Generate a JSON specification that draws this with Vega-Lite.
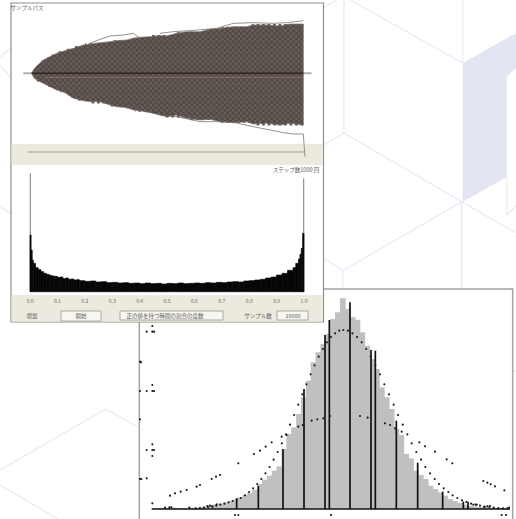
{
"$schema":"https://vega.github.io/schema/vega-lite/v6.json",
"width":516,"height":519,"padding":0,"autosize":{"type":"none"},"background":"#ffffff",
"config":{"view":{"stroke":null},"axis":{"disable":true},"text":{"font":"Noto Sans CJK JP"}},
"resolve":{"scale":{"x":"independent","y":"independent"}},
"datasets":{
"poly":[{"part":"a","x":462.7,"y":63,"y2":201.7},{"part":"a","x":506.7,"y":38.2,"y2":177},{"part":"b","x":506.7,"y":38.2,"y2":77},{"part":"b","x":516,"y":33,"y2":68}],
"lines":[{"x":344,"y":0,"x2":344,"y2":133},{"x":350,"y":0,"x2":462.7,"y2":63},{"x":462.7,"y":0,"x2":462.7,"y2":63},{"x":344,"y":133,"x2":461.7,"y2":201.7},{"x":324,"y":145,"x2":344,"y2":133},{"x":461.7,"y":201.7,"x2":516,"y2":233},{"x":461.7,"y":201.7,"x2":342.7,"y2":270.7},{"x":324,"y":258,"x2":342.7,"y2":270.7},{"x":342.7,"y":270.7,"x2":342.7,"y2":288},{"x":461.7,"y":201.7,"x2":461.7,"y2":288},{"x":506.7,"y":177,"x2":506.7,"y2":215},{"x":506.7,"y":215,"x2":516,"y2":206},{"x":324,"y":7,"x2":337,"y2":0},{"x":0,"y":57,"x2":11,"y2":48},{"x":0,"y":65,"x2":11,"y2":78},{"x":0,"y":207,"x2":11,"y2":214},{"x":0,"y":470,"x2":106,"y2":409},{"x":106,"y":409,"x2":138,"y2":427},{"x":0,"y":485,"x2":58,"y2":519},{"x":512,"y":369,"x2":516,"y2":372}],
"frame":[{"x":28,"x2":1148,"h":660,"h2":-40}],
"bars":[{"c":70,"h":3},{"c":85,"h":3},{"c":100,"h":3},{"c":115,"h":4},{"c":130,"h":3},{"c":145,"h":3},{"c":160,"h":3},{"c":175,"h":4},{"c":190,"h":4},{"c":205,"h":6},{"c":220,"h":8},{"c":235,"h":10},{"c":250,"h":14},{"c":265,"h":16},{"c":280,"h":20},{"c":295,"h":24},{"c":310,"h":28},{"c":325,"h":35},{"c":340,"h":42},{"c":355,"h":48},{"c":370,"h":58},{"c":385,"h":75},{"c":400,"h":88},{"c":415,"h":100},{"c":430,"h":115},{"c":445,"h":128},{"c":460,"h":180},{"c":475,"h":225},{"c":490,"h":245},{"c":505,"h":285},{"c":520,"h":335},{"c":535,"h":385},{"c":550,"h":440},{"c":565,"h":470},{"c":580,"h":495},{"c":595,"h":525},{"c":610,"h":570},{"c":625,"h":590},{"c":640,"h":632},{"c":655,"h":600},{"c":670,"h":575},{"c":685,"h":568},{"c":700,"h":530},{"c":715,"h":490},{"c":730,"h":450},{"c":745,"h":420},{"c":760,"h":365},{"c":775,"h":335},{"c":790,"h":300},{"c":805,"h":240},{"c":820,"h":222},{"c":835,"h":165},{"c":850,"h":152},{"c":865,"h":115},{"c":880,"h":102},{"c":895,"h":90},{"c":910,"h":70},{"c":925,"h":60},{"c":940,"h":50},{"c":955,"h":40},{"c":970,"h":30},{"c":985,"h":24},{"c":1000,"h":18},{"c":1015,"h":13},{"c":1030,"h":10},{"c":1045,"h":8},{"c":1060,"h":6},{"c":1075,"h":5},{"c":1090,"h":4},{"c":1105,"h":3},{"c":1120,"h":3},{"c":1135,"h":2}],
"spikes":[{"c":320,"h":32},{"c":385,"h":69},{"c":459,"h":179},{"c":522,"h":360},{"c":585,"h":522},{"c":598,"h":567},{"c":660,"h":620},{"c":723,"h":477},{"c":736,"h":475},{"c":799,"h":265},{"c":863,"h":139},{"c":938,"h":52},{"c":1000,"h":22},{"c":1014,"h":22}],
"base":[{"a":65,"b":1140,"h":0}],
"dots":[{"c":640,"h":537},{"c":627.7,"h":535},{"c":615.4,"h":527},{"c":603.1,"h":516},{"c":590.8,"h":500},{"c":578.5,"h":480},{"c":566.2,"h":457},{"c":553.9,"h":431},{"c":541.6,"h":404},{"c":529.3,"h":374},{"c":517,"h":344},{"c":504.7,"h":313},{"c":492.4,"h":282},{"c":480.1,"h":253},{"c":467.8,"h":224},{"c":455.5,"h":197},{"c":443.2,"h":171},{"c":430.9,"h":148},{"c":418.6,"h":126},{"c":406.3,"h":107},{"c":394,"h":90},{"c":381.7,"h":75},{"c":369.4,"h":62},{"c":357.1,"h":51},{"c":344.8,"h":41},{"c":332.5,"h":33},{"c":320.2,"h":28},{"c":307.9,"h":24},{"c":295.6,"h":20},{"c":283.3,"h":16},{"c":271,"h":13},{"c":258.7,"h":10},{"c":246.4,"h":8},{"c":234.1,"h":6},{"c":221.8,"h":4},{"c":209.5,"h":3},{"c":197.2,"h":2},
{"c":653.7,"h":535},{"c":667.4,"h":527},{"c":681,"h":516},{"c":695,"h":500},{"c":708.5,"h":480},{"c":722,"h":457},{"c":736,"h":431},{"c":750,"h":404},{"c":763,"h":374},{"c":777,"h":344},{"c":791,"h":313},{"c":804,"h":282},{"c":818,"h":253},{"c":832,"h":224},{"c":845,"h":197},{"c":859,"h":171},{"c":873,"h":148},{"c":886,"h":126},{"c":900,"h":107},{"c":914,"h":90},{"c":927,"h":75},{"c":941,"h":62},{"c":955,"h":51},{"c":968,"h":41},{"c":982,"h":33},{"c":996,"h":26},{"c":1009,"h":21},{"c":1023,"h":16},{"c":1037,"h":13},{"c":1050,"h":10},{"c":1064,"h":7},{"c":1078,"h":6},{"c":1091,"h":4},{"c":1105,"h":3},{"c":1119,"h":2},{"c":1132,"h":2},
{"c":120,"h":40},{"c":135,"h":47},{"c":152,"h":52},{"c":170,"h":57},{"c":200,"h":67},{"c":210,"h":72},{"c":245,"h":90},{"c":258,"h":97},{"c":270,"h":102},{"c":325,"h":137},{"c":372,"h":165},{"c":390,"h":175},{"c":407,"h":187},{"c":425,"h":200},{"c":455,"h":217},{"c":470,"h":222},{"c":505,"h":247},{"c":518,"h":252},{"c":545,"h":265},{"c":562,"h":269},{"c":580,"h":272},{"c":600,"h":279},{"c":690,"h":279},{"c":713,"h":274},{"c":765,"h":257},{"c":780,"h":252},{"c":795,"h":242},{"c":815,"h":232},{"c":868,"h":200},{"c":885,"h":188},{"c":915,"h":172},{"c":950,"h":149},{"c":967,"h":137},{"c":1060,"h":84},{"c":1072,"h":79},{"c":1082,"h":74},{"c":1095,"h":68},{"c":1123,"h":56},
{"c":67,"h":549},{"c":67,"h":532},{"c":50,"h":532},{"c":72,"h":532},{"c":67,"h":372},{"c":30,"h":354},{"c":50,"h":354},{"c":67,"h":354},{"c":72,"h":354},{"c":30,"h":269},{"c":67,"h":194},{"c":50,"h":177},{"c":67,"h":177},{"c":72,"h":177},{"c":67,"h":159},{"c":30,"h":90},{"c":34,"h":90},{"c":50,"h":92},{"c":67,"h":17},{"c":30,"h":442},{"c":33,"h":440},
{"c":315,"h":-18},{"c":325,"h":-18},{"c":603,"h":-18},{"c":1115,"h":-18},{"c":1128,"h":-18},
{"c":105,"h":4},{"c":118,"h":5},{"c":124,"h":5},{"c":178,"h":4},{"c":232,"h":9},{"c":240,"h":10},{"c":248,"h":7},{"c":260,"h":14},{"c":1030,"h":13},{"c":1040,"h":13},{"c":1062,"h":6},{"c":1072,"h":8},{"c":1080,"h":9},{"c":1137,"h":4}],
"windowRect":[{"x":11,"x2":323.5,"y":3,"y2":322}],
"strips":[{"x":11.5,"x2":323,"y":144,"y2":165},{"x":11.5,"x2":323,"y":295,"y2":321.5}],
"boxes":[{"x":61,"x2":101,"y":311,"y2":321},{"x":120,"x2":223,"y":311,"y2":320},{"x":277,"x2":308,"y":311,"y2":320}],
"slider":[{"x":28,"x2":305,"y":152}],
"envelope":[{"s":0,"t":0,"b":0},{"s":5,"t":10,"b":-10},{"s":15,"t":22,"b":-20},{"s":35,"t":40,"b":-30},{"s":55,"t":50,"b":-40},{"s":75,"t":60,"b":-50},{"s":100,"t":68,"b":-58},{"s":125,"t":75,"b":-75},{"s":155,"t":85,"b":-82},{"s":175,"t":88,"b":-85},{"s":205,"t":92,"b":-85},{"s":235,"t":95,"b":-95},{"s":255,"t":98,"b":-100},{"s":285,"t":100,"b":-103},{"s":305,"t":105,"b":-110},{"s":325,"t":108,"b":-112},{"s":355,"t":110,"b":-118},{"s":385,"t":113,"b":-125},{"s":405,"t":112,"b":-130},{"s":435,"t":120,"b":-125},{"s":465,"t":125,"b":-135},{"s":505,"t":125,"b":-140},{"s":535,"t":132,"b":-138},{"s":565,"t":135,"b":-145},{"s":605,"t":140,"b":-148},{"s":645,"t":140,"b":-145},{"s":665,"t":145,"b":-152},{"s":705,"t":145,"b":-150},{"s":745,"t":142,"b":-155},{"s":775,"t":148,"b":-150},{"s":815,"t":148,"b":-155}],
"rowsA":[{"p":144,"s":660,"e":815},{"p":128,"s":520,"e":815},{"p":111,"s":360,"e":815},{"p":95,"s":240,"e":815},{"p":78,"s":130,"e":815},{"p":62,"s":80,"e":815},{"p":45,"s":45,"e":815},{"p":29,"s":24,"e":815},{"p":12,"s":8,"e":815},{"p":-4,"s":3,"e":815},{"p":-20,"s":15,"e":815},{"p":-37,"s":50,"e":815},{"p":-53,"s":86,"e":815},{"p":-70,"s":120,"e":815},{"p":-86,"s":180,"e":815},{"p":-103,"s":285,"e":815},{"p":-119,"s":370,"e":815},{"p":-136,"s":470,"e":815},{"p":-152,"s":670,"e":815}],
"rowsB":[{"p":136,"s":570,"e":815},{"p":119,"s":430,"e":815},{"p":103,"s":300,"e":815},{"p":86,"s":160,"e":815},{"p":70,"s":105,"e":815},{"p":53,"s":60,"e":815},{"p":37,"s":30,"e":815},{"p":20,"s":14,"e":815},{"p":4,"s":3,"e":815},{"p":-12,"s":7,"e":815},{"p":-29,"s":32,"e":815},{"p":-45,"s":66,"e":815},{"p":-62,"s":110,"e":815},{"p":-78,"s":140,"e":815},{"p":-95,"s":235,"e":815},{"p":-111,"s":310,"e":815},{"p":-128,"s":400,"e":815},{"p":-144,"s":565,"e":815}],
"outliers":[{"w":"a","s":175,"p":90},{"w":"a","s":205,"p":102},{"w":"a","s":235,"p":112},{"w":"a","s":275,"p":115},{"w":"a","s":305,"p":120},{"w":"a","s":325,"p":105},{"w":"b","s":385,"p":120},{"w":"b","s":425,"p":125},{"w":"b","s":475,"p":128},{"w":"b","s":555,"p":135},{"w":"b","s":605,"p":150},{"w":"b","s":665,"p":152},{"w":"b","s":725,"p":150},{"w":"b","s":765,"p":152},{"w":"b","s":815,"p":158},{"w":"c","s":385,"p":-125},{"w":"c","s":435,"p":-130},{"w":"c","s":505,"p":-145},{"w":"c","s":595,"p":-145},{"w":"c","s":665,"p":-160},{"w":"c","s":705,"p":-168},{"w":"c","s":755,"p":-178},{"w":"c","s":785,"p":-182},{"w":"c","s":815,"p":-182},{"w":"c","s":817,"p":-210},{"w":"c","s":820,"p":-250}],
"mid":[{"a":-25,"b":840,"p":0}],
"midDark":[{"a":0,"b":815,"p":0}],
"midRed":[{"a":40,"b":815,"p":-12}],
"hist":[{"a":0,"b":0.004,"h":170},{"a":0.004,"b":0.008,"h":125},{"a":0.008,"b":0.012,"h":95},{"a":0.012,"b":0.02,"h":85},{"a":0.02,"b":0.03,"h":72},{"a":0.03,"b":0.04,"h":66},{"a":0.04,"b":0.05,"h":60},{"a":0.05,"b":0.06,"h":55},{"a":0.06,"b":0.07,"h":52},{"a":0.07,"b":0.08,"h":49},{"a":0.08,"b":0.09,"h":47},{"a":0.09,"b":0.1,"h":46},{"a":0.1,"b":0.11,"h":43},{"a":0.11,"b":0.12,"h":44},{"a":0.12,"b":0.13,"h":39},{"a":0.13,"b":0.14,"h":41},{"a":0.14,"b":0.15,"h":37},{"a":0.15,"b":0.16,"h":38},{"a":0.16,"b":0.17,"h":35},{"a":0.17,"b":0.18,"h":36},{"a":0.18,"b":0.2,"h":33},{"a":0.2,"b":0.22,"h":31},{"a":0.22,"b":0.24,"h":32},{"a":0.24,"b":0.26,"h":29},{"a":0.26,"b":0.28,"h":30},{"a":0.28,"b":0.3,"h":27},{"a":0.3,"b":0.32,"h":28},{"a":0.32,"b":0.34,"h":26},{"a":0.34,"b":0.36,"h":27},{"a":0.36,"b":0.38,"h":25},{"a":0.38,"b":0.4,"h":26},{"a":0.4,"b":0.42,"h":24},{"a":0.42,"b":0.44,"h":26},{"a":0.44,"b":0.46,"h":24},{"a":0.46,"b":0.48,"h":25},{"a":0.48,"b":0.5,"h":23},{"a":0.5,"b":0.52,"h":25},{"a":0.52,"b":0.54,"h":24},{"a":0.54,"b":0.56,"h":26},{"a":0.56,"b":0.58,"h":24},{"a":0.58,"b":0.6,"h":25},{"a":0.6,"b":0.62,"h":26},{"a":0.62,"b":0.64,"h":25},{"a":0.64,"b":0.66,"h":27},{"a":0.66,"b":0.68,"h":26},{"a":0.68,"b":0.7,"h":28},{"a":0.7,"b":0.72,"h":27},{"a":0.72,"b":0.74,"h":29},{"a":0.74,"b":0.76,"h":30},{"a":0.76,"b":0.78,"h":29},{"a":0.78,"b":0.8,"h":32},{"a":0.8,"b":0.82,"h":33},{"a":0.82,"b":0.84,"h":35},{"a":0.84,"b":0.86,"h":37},{"a":0.86,"b":0.88,"h":41},{"a":0.88,"b":0.9,"h":44},{"a":0.9,"b":0.92,"h":50},{"a":0.92,"b":0.94,"h":55},{"a":0.94,"b":0.96,"h":64},{"a":0.96,"b":0.97,"h":72},{"a":0.97,"b":0.98,"h":85},{"a":0.98,"b":0.985,"h":98},{"a":0.985,"b":0.99,"h":112},{"a":0.99,"b":0.995,"h":130},{"a":0.995,"b":1,"h":175}],
"histSpike":[{"a":0.001,"h":355},{"a":0.999,"h":340}],
"histTicks":[{"a":0,"t":"0.0"},{"a":0.1,"t":"0.1"},{"a":0.2,"t":"0.2"},{"a":0.3,"t":"0.3"},{"a":0.4,"t":"0.4"},{"a":0.5,"t":"0.5"},{"a":0.6,"t":"0.6"},{"a":0.7,"t":"0.7"},{"a":0.8,"t":"0.8"},{"a":0.9,"t":"0.9"},{"a":1,"t":"1.0"}],
"labels":[{"x":27,"y":8,"t":"サンプルパス"},{"x":296,"y":170,"t":"ステップ数1000 回"},{"x":32,"y":316,"t":"増加"},{"x":81,"y":316,"t":"開始"},{"x":165,"y":316,"t":"正の値を持つ時間の割合の度数"},{"x":258,"y":316,"t":"サンプル数"},{"x":293,"y":316,"t":"10000"}]
},
"layer":[
{"data":{"name":"poly"},"mark":{"type":"area","color":"#e3e5f3","opacity":1},"encoding":{"detail":{"field":"part"},"x":{"field":"x","type":"quantitative","scale":{"domain":[0,516],"range":[0,516]}},"y":{"field":"y","type":"quantitative","scale":{"domain":[0,519],"range":[0,519]}},"y2":{"field":"y2"}}},
{"data":{"name":"lines"},"mark":{"type":"rule","color":"#e8eaf6","strokeWidth":1.2},"encoding":{"x":{"field":"x","type":"quantitative","scale":{"domain":[0,516],"range":[0,516]}},"y":{"field":"y","type":"quantitative","scale":{"domain":[0,519],"range":[0,519]}},"x2":{"field":"x2"},"y2":{"field":"y2"}}},
{"data":{"name":"frame"},"mark":{"type":"rect","fill":"#ffffff","stroke":"#a3a3a3","strokeWidth":1.5},"encoding":{"x":{"field":"x","type":"quantitative","scale":{"domain":[0,1160],"range":[130,516.67]}},"x2":{"field":"x2"},"y":{"field":"h","type":"quantitative","scale":{"domain":[0,672],"range":[509,285]}},"y2":{"field":"h2"}}},
{"data":{"name":"bars"},"mark":{"type":"bar","color":"#c0c0c0","size":5.8},"encoding":{"x":{"field":"c","type":"quantitative","scale":{"domain":[0,1160],"range":[130,516.67]}},"y":{"field":"h","type":"quantitative","scale":{"domain":[0,672],"range":[509,285]}}}},
{"data":{"name":"spikes"},"mark":{"type":"rule","color":"#111111","strokeWidth":1.7},"encoding":{"x":{"field":"c","type":"quantitative","scale":{"domain":[0,1160],"range":[130,516.67]}},"y":{"field":"h","type":"quantitative","scale":{"domain":[0,672],"range":[509,285]}},"y2":{"datum":0}}},
{"data":{"name":"base"},"mark":{"type":"rule","color":"#111111","strokeWidth":1.5},"encoding":{"x":{"field":"a","type":"quantitative","scale":{"domain":[0,1160],"range":[130,516.67]}},"x2":{"field":"b"},"y":{"field":"h","type":"quantitative","scale":{"domain":[0,672],"range":[509,285]}}}},
{"data":{"name":"dots"},"mark":{"type":"point","filled":true,"color":"#1a1a1a","size":4.5,"opacity":1},"encoding":{"x":{"field":"c","type":"quantitative","scale":{"domain":[0,1160],"range":[130,516.67]}},"y":{"field":"h","type":"quantitative","scale":{"domain":[0,672],"range":[509,285]}}}},
{"data":{"name":"windowRect"},"mark":{"type":"rect","fill":"#ffffff","stroke":"#8f8f8f","strokeWidth":1.2},"encoding":{"x":{"field":"x","type":"quantitative","scale":{"domain":[0,516],"range":[0,516]}},"x2":{"field":"x2"},"y":{"field":"y","type":"quantitative","scale":{"domain":[0,519],"range":[0,519]}},"y2":{"field":"y2"}}},
{"data":{"name":"strips"},"mark":{"type":"rect","fill":"#eceade"},"encoding":{"x":{"field":"x","type":"quantitative","scale":{"domain":[0,516],"range":[0,516]}},"x2":{"field":"x2"},"y":{"field":"y","type":"quantitative","scale":{"domain":[0,519],"range":[0,519]}},"y2":{"field":"y2"}}},
{"data":{"name":"boxes"},"mark":{"type":"rect","fill":"#f7f6f0","stroke":"#9a9a90","strokeWidth":0.8},"encoding":{"x":{"field":"x","type":"quantitative","scale":{"domain":[0,516],"range":[0,516]}},"x2":{"field":"x2"},"y":{"field":"y","type":"quantitative","scale":{"domain":[0,519],"range":[0,519]}},"y2":{"field":"y2"}}},
{"data":{"name":"slider"},"mark":{"type":"rule","color":"#9c9a88","strokeWidth":1.2},"encoding":{"x":{"field":"x","type":"quantitative","scale":{"domain":[0,516],"range":[0,516]}},"x2":{"field":"x2"},"y":{"field":"y","type":"quantitative","scale":{"domain":[0,519],"range":[0,519]}}}},
{"data":{"name":"mid"},"mark":{"type":"rule","color":"#b0b0b0","strokeWidth":2},"encoding":{"x":{"field":"a","type":"quantitative","scale":{"domain":[0,815],"range":[31.67,303.3]}},"x2":{"field":"b"},"y":{"field":"p","type":"quantitative","scale":{"domain":[-220,220],"range":[146.67,0]}}}},
{"data":{"name":"outliers"},"mark":{"type":"line","color":"#959290","strokeWidth":1},"encoding":{"detail":{"field":"w"},"x":{"field":"s","type":"quantitative","scale":{"domain":[0,815],"range":[31.67,303.3]}},"y":{"field":"p","type":"quantitative","scale":{"domain":[-220,220],"range":[146.67,0]}}}},
{"data":{"name":"envelope"},"mark":{"type":"area","color":"#524844","opacity":1,"stroke":"#8a8380","strokeWidth":0.8},"encoding":{"x":{"field":"s","type":"quantitative","scale":{"domain":[0,815],"range":[31.67,303.3]}},"y":{"field":"t","type":"quantitative","scale":{"domain":[-220,220],"range":[146.67,0]}},"y2":{"field":"b"}}},
{"data":{"name":"rowsA"},"mark":{"type":"rule","color":"#665d59","strokeWidth":2.75,"strokeDash":[2.75,2.75],"strokeDashOffset":0},"encoding":{"x":{"field":"e","type":"quantitative","scale":{"domain":[0,815],"range":[31.67,303.3]}},"x2":{"field":"s"},"y":{"field":"p","type":"quantitative","scale":{"domain":[-220,220],"range":[146.67,0]}}}},
{"data":{"name":"rowsB"},"mark":{"type":"rule","color":"#665d59","strokeWidth":2.75,"strokeDash":[2.75,2.75],"strokeDashOffset":2.75},"encoding":{"x":{"field":"e","type":"quantitative","scale":{"domain":[0,815],"range":[31.67,303.3]}},"x2":{"field":"s"},"y":{"field":"p","type":"quantitative","scale":{"domain":[-220,220],"range":[146.67,0]}}}},
{"data":{"name":"midRed"},"mark":{"type":"rule","color":"#8d726d","strokeWidth":1,"opacity":0.8},"encoding":{"x":{"field":"a","type":"quantitative","scale":{"domain":[0,815],"range":[31.67,303.3]}},"x2":{"field":"b"},"y":{"field":"p","type":"quantitative","scale":{"domain":[-220,220],"range":[146.67,0]}}}},
{"data":{"name":"midDark"},"mark":{"type":"rule","color":"#2e2523","strokeWidth":1.5},"encoding":{"x":{"field":"a","type":"quantitative","scale":{"domain":[0,815],"range":[31.67,303.3]}},"x2":{"field":"b"},"y":{"field":"p","type":"quantitative","scale":{"domain":[-220,220],"range":[146.67,0]}}}},
{"data":{"name":"histSpike"},"mark":{"type":"rule","color":"#777777","strokeWidth":1},"encoding":{"x":{"field":"a","type":"quantitative","scale":{"domain":[0,1],"range":[30,304]}},"y":{"field":"h","type":"quantitative","scale":{"domain":[0,360],"range":[291.7,171.7]}},"y2":{"datum":0}}},
{"data":{"name":"hist"},"mark":{"type":"rect","color":"#060606","stroke":"#060606","strokeWidth":0.7},"encoding":{"x":{"field":"a","type":"quantitative","scale":{"domain":[0,1],"range":[30,304]}},"x2":{"field":"b"},"y":{"field":"h","type":"quantitative","scale":{"domain":[0,360],"range":[291.7,171.7]}},"y2":{"datum":0}}},
{"data":{"name":"histTicks"},"mark":{"type":"text","fontSize":5,"color":"#666666","align":"center","baseline":"middle"},"encoding":{"x":{"field":"a","type":"quantitative","scale":{"domain":[0,1],"range":[30,304]}},"y":{"datum":-27,"type":"quantitative","scale":{"domain":[0,360],"range":[291.7,171.7]}},"text":{"field":"t"}}},
{"data":{"name":"labels"},"mark":{"type":"text","fontSize":5.5,"color":"#5a5a5a","align":"center","baseline":"middle"},"encoding":{"x":{"field":"x","type":"quantitative","scale":{"domain":[0,516],"range":[0,516]}},"y":{"field":"y","type":"quantitative","scale":{"domain":[0,519],"range":[0,519]}},"text":{"field":"t"}}}
]
}
